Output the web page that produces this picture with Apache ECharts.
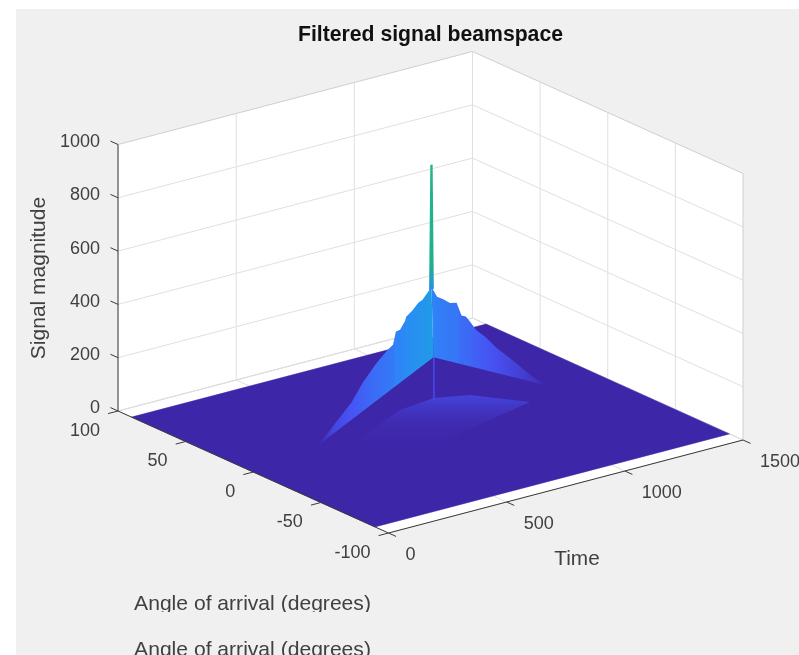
<!DOCTYPE html>
<html><head><meta charset="utf-8">
<style>html,body{margin:0;padding:0;background:#fff}#c{width:799px;height:655px}</style>
<script src="https://cdn.jsdelivr.net/npm/echarts@6/dist/echarts.min.js"></script>
</head><body><div id="c"></div>
<script>
// ---- data ----
const titleText = 'Filtered signal beamspace';
const timeName = 'Time';
const angleName = 'Angle of arrival (degrees)';
const magName = 'Signal magnitude';
const timeTicks = [0, 500, 1000, 1500];
const angleTicks = [100, 50, 0, -50, -100];
const magTicks = [0, 200, 400, 600, 800, 1000];
// flat floor of the surface
const floorTime = [0, 1500, 1500, 0];
const floorAngle = [-90, -90, 90, 90];
// jagged crest of the main ridge
const crestTime  = [339,412,495,549,617,670,695,709,729,753,758,787,817,836,861,880,900,923,948,972,990,1006,1020,1044,1080,1116,1174,1259,1296];
const crestAngle = [10.6,12.1,13.9,15,16.5,17.6,18.1,18.4,18.8,19.3,19.4,20,20.7,21.1,21.6,22,21.4,20.8,20.2,19.5,19,18.6,18.2,17.6,16.6,15.7,14.1,11.8,10.8];
const crestMag   = [0,55,114,173,229,263,274,320,321,348,362,376,398,403,423,440,399,386,367,364,313,307,287,250,215,173,117,31,0];
// rear foot of the ridge, where the crest faces come down to the floor
const footTime = 1163, footAngle = 70;
// single sharp peak
const spikeTime = [870, 875, 885, 890];
const spikeAngle = [22, 22, 22, 22];
const spikeMag = [430, 898, 898, 430];
// thin stem under the ridge
const stemTime = [928, 673];
const stemAngle = [28.6, -16];
const stemMag = [150, 150];
// faint low ridge in front
const lowTime  = [475, 561, 650, 780, 926, 1155];
const lowAngle = [4.1, 4.3, 5, 2.7, 1.6, -2.7];
const lowMag   = [0, 40, 70, 90, 70, 0];
const lowFadeTime = 644, lowFadeAngle = -21;
// colour map (parula) and its upper limit
const colormapStops = ['#3e26a8','#4852f4','#2d87f7','#12b1d6','#37c897','#abc739','#fec338','#f9fb14'];
const colorMax = 1550;

// ---- 3D view ----
const origin = [388.5, 533], uVec = [354.5, -93], vVec = [-270.5, -122], zScale = 0.2665;
const project = (t, a, z) => {
  const u = t / 1500, v = (a + 100) / 200;
  return [origin[0] + uVec[0] * u + vVec[0] * v, origin[1] + uVec[1] * u + vVec[1] * v - z * zScale];
};
const hex = h => [1,3,5].map(i => parseInt(h.substr(i,2),16));
function parula(z) {
  const p = Math.max(0, Math.min(1, z / colorMax)) * (colormapStops.length - 1);
  const i = Math.min(Math.floor(p), colormapStops.length - 2), f = p - i;
  const a = hex(colormapStops[i]), b = hex(colormapStops[i+1]);
  return 'rgb(' + a.map((c,k) => Math.round(c + (b[k]-c)*f)).join(',') + ')';
}
const FONT = '"Liberation Sans", Arial, sans-serif';
const Grad = echarts.graphic.LinearGradient;

const frame = [];
const poly = (pts, fill) => frame.push({pts, fill});
const line = (p, q, stroke, lw) => frame.push({pts:[p,q], stroke, lw: lw||1});
poly([[0,100,0],[1500,100,0],[1500,100,1000],[0,100,1000]], '#ffffff');
poly([[1500,100,0],[1500,-100,0],[1500,-100,1000],[1500,100,1000]], '#ffffff');
poly([[0,-100,0],[1500,-100,0],[1500,100,0],[0,100,0]], '#ffffff');
const GRID = '#e0e0e0', EDGE = '#cfcfcf', BACK = '#c4c4c4', AX = '#3a3a3a';
magTicks.forEach(m => { line([0,100,m],[1500,100,m],m===0||m===1000?EDGE:GRID); line([1500,100,m],[1500,-100,m],m===0||m===1000?EDGE:GRID); });
timeTicks.forEach(t => { line([t,100,0],[t,100,1000],t===1500?BACK:GRID); line([t,100,0],[t,-100,0],GRID); });
angleTicks.forEach(a => { line([1500,a,0],[1500,a,1000],a===-100?EDGE:GRID); line([0,a,0],[1500,a,0],GRID); });

const surface = [];
surface.push({pts: floorTime.map((t,i) => [t, floorAngle[i], 0]), fill: parula(0), stroke: parula(0), lw: .5});
const lowTop = Math.max(...lowMag);
surface.push({pts: lowTime.map((t,i) => [t, lowAngle[i], lowMag[i]]).concat([[lowFadeTime, lowFadeAngle, 0]]),
  fill: new Grad(0,0,0,1,[{offset:0,color:parula(lowTop*1.6)},{offset:.3,color:parula(lowTop*.8)},{offset:.55,color:parula(lowTop*.3)},{offset:1,color:parula(0)}])});
surface.push({pts: stemTime.map((t,i) => [t, stemAngle[i], stemMag[i]]), stroke: parula(stemMag[0]*1.2), lw: 1.6});
const peakIdx = crestMag.indexOf(Math.max(...crestMag));
const footPt = [footTime, footAngle, 0];
function wall(from, to, k, lift) {
  const idx = [];
  for (let i = from; i <= to; i++) idx.push(i);
  const xs = idx.map(i => project(crestTime[i], crestAngle[i], 0)[0]);
  const xf = project(footTime, footAngle, 0)[0];
  const x0 = Math.min(...xs, xf), x1 = Math.max(...xs, xf);
  const stops = idx.map((i, n) => ({offset:(xs[n]-x0)/(x1-x0), color:parula(crestMag[i] > 0 ? crestMag[i]*k + lift : 15)}))
    .sort((a,b)=>a.offset-b.offset);
  surface.push({pts: idx.map(i => [crestTime[i], crestAngle[i], crestMag[i]]).concat([footPt]), fill: new Grad(0,0,1,0,stops)});
}
wall(0, peakIdx, 1, 110);
wall(peakIdx, crestTime.length - 1, 0.9, 50);
surface.push({pts: spikeTime.map((t,i) => [t, spikeAngle[i], spikeMag[i]]),
  fill: new Grad(0,0,0,1,[{offset:0,color:'#25b58c'},{offset:.8,color:'#1fb08c'},{offset:.95,color:'#2a97d0'},{offset:1,color:parula(spikeMag[0])}])});

const axes = [];
const tickLen = .028;
magTicks.forEach(m => axes.push({pts:[[0,100,m],[0,100+200*tickLen,m]], stroke:AX, lw:1}));
angleTicks.forEach(a => axes.push({pts:[[0,a,0],[-1500*tickLen,a,0]], stroke:AX, lw:1}));
timeTicks.forEach(t => axes.push({pts:[[t,-100,0],[t,-100-200*tickLen,0]], stroke:AX, lw:1}));
axes.push({pts:[[0,100,0],[0,100,1000]], stroke:AX, lw:1});
axes.push({pts:[[0,100,0],[0,-100,0]], stroke:AX, lw:1});
axes.push({pts:[[0,-100,0],[1500,-100,0]], stroke:AX, lw:1});

const texts = [];
const TICK = '#404040';
magTicks.forEach(m => { const p = project(0,100,m); texts.push({x:p[0]-18,y:p[1]-2.5,text:String(m),align:'right'}); });
angleTicks.forEach(a => { const p = project(0,a,0); texts.push({x:p[0]-18,y:p[1]+20,text:String(a),align:'right'}); });
timeTicks.forEach(t => { const p = project(t,-100,0); texts.push({x:p[0]+17,y:p[1]+22.5,text:String(t),align:'left'}); });
texts.push({x:430.5,y:35,text:titleText,align:'center',size:21.2,weight:'bold',color:'#111'});
texts.push({x:577,y:559,text:timeName,align:'center',size:20.8});
texts.push({x:39,y:278,text:magName,align:'center',size:21,rotate:Math.PI/2});
texts.push({x:252.5,y:604.5,text:angleName,align:'center',size:21.1});

const shapeSeries = (name, list) => ({
  type:'custom', name, coordinateSystem:'cartesian2d', clip:false, silent:true, animation:false,
  data:list.map((_,i)=>[i]),
  renderItem:(params, api) => {
    const s = list[api.value(0)];
    const pts = s.pts.map(q => api.coord(project(q[0],q[1],q[2])));
    if (!s.fill) return {type:'polyline',shape:{points:pts},style:{stroke:s.stroke,lineWidth:s.lw,fill:null}};
    return {type:'polygon',shape:{points:pts},style:{fill:s.fill,stroke:s.stroke||null,lineWidth:s.lw||0}};
  }
});

const option = {
  backgroundColor:'#ffffff',
  animation:false,
  grid:{left:0,right:0,top:0,bottom:0},
  xAxis:{type:'value',min:0,max:799,show:false},
  yAxis:{type:'value',min:0,max:655,inverse:true,show:false},
  tooltip:{show:false},
  graphic:[{type:'rect',z:0,silent:true,shape:{x:16,y:9,width:783,height:646},style:{fill:'#f0f0f0'}}],
  series:[
    shapeSeries('frame',frame),
    shapeSeries('surface',surface),
    shapeSeries('axes',axes),
    {type:'custom',name:'labels',coordinateSystem:'cartesian2d',clip:false,silent:true,animation:false,
     data:texts.map((_,i)=>[i]),
     renderItem:(params,api)=>{
       const t = texts[api.value(0)], c = api.coord([t.x,t.y]);
       return {type:'text',x:c[0],y:c[1],rotation:t.rotate||0,style:{text:t.text,fill:t.color||TICK,font:(t.weight||'normal')+' '+(t.size||18)+'px '+FONT,textAlign:t.align,textVerticalAlign:'middle'}};
     }},
    {type:'custom',name:'lowerLabel',coordinateSystem:'cartesian2d',clip:false,silent:true,animation:false,z:5,
     data:[[0],[1]],
     renderItem:(params,api)=>{
       if (api.value(0)===0) { const c=api.coord([16,612]); return {type:'rect',shape:{x:c[0],y:c[1],width:500,height:26},style:{fill:'#f0f0f0'}}; }
       const c=api.coord([252.5,650.5]);
       return {type:'text',x:c[0],y:c[1],style:{text:angleName,fill:TICK,font:'normal 21.1px '+FONT,textAlign:'center',textVerticalAlign:'middle'}};
     }}
  ]
};
const chart = echarts.init(document.getElementById('c'),null,{renderer:'canvas'});
chart.setOption(option);
</script></body></html>
